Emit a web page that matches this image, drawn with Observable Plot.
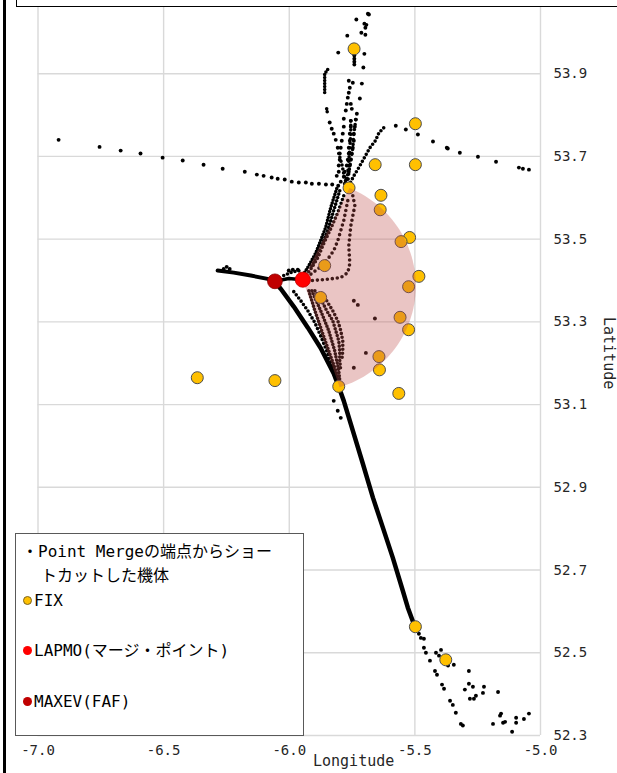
<!DOCTYPE html>
<html>
<head>
<meta charset="utf-8">
<script src="https://cdn.jsdelivr.net/npm/d3@7"></script>
<script src="https://cdn.jsdelivr.net/npm/@observablehq/plot@0.6"></script>
<style>
  body { margin: 0; background: #fff; }
  #wrap { position: relative; width: 617px; height: 773px; overflow: hidden; background: #fff;
          font-family: "DejaVu Sans Mono", "Noto Sans CJK JP", monospace; color: #000; }
  #wrap svg { position: absolute; left: 0; top: 0; }
  .frame-left { position: absolute; left: 3px; top: 0; width: 3px; height: 773px; background: #000; }
  .frame-top { position: absolute; left: 16px; top: -4px; width: 610px; height: 9px; border: 1.5px solid #000; background: #fff; }
  .axis-title { position: absolute; font-size: 15px; color: #262626; white-space: nowrap; }
  .legend { position: absolute; left: 15px; top: 533px; width: 287px; height: 201px; border: 1px solid #595959;
            background: #fff; font-size: 16px; }
  .legend .row { position: absolute; white-space: nowrap; line-height: 20px; }
  .sym { display: inline-block; width: 9px; height: 9px; border-radius: 50%; vertical-align: middle;
         margin: 0 2px 3px 0; box-sizing: border-box; }
</style>
</head>
<body>
<div id="wrap"></div>
<script>
// Axis ticks
const lonTicks = [-7.0, -6.5, -6.0, -5.5, -5.0];
const latTicks = [52.3, 52.5, 52.7, 52.9, 53.1, 53.3, 53.5, 53.7, 53.9];

// Named points [lon, lat]
const fixes = [
  [-5.742, 53.960], [-5.498, 53.779], [-5.658, 53.680], [-5.498, 53.680], [-5.762, 53.624],
  [-5.635, 53.606], [-5.638, 53.571], [-5.521, 53.504], [-5.555, 53.494], [-5.859, 53.436],
  [-5.484, 53.410], [-5.525, 53.385], [-5.875, 53.359], [-5.559, 53.311], [-5.525, 53.281],
  [-5.643, 53.216], [-5.641, 53.184], [-5.564, 53.127], [-5.803, 53.144], [-6.366, 53.165],
  [-6.057, 53.158], [-5.498, 52.563], [-5.377, 52.483]
];
const lapmo = [-5.946, 53.402];
const maxev = [-6.057, 53.398];

// Point Merge sequencing arc around the merge point
const arcCenter = [-5.926, 53.387];
const arcRadius = 0.2563;          // degrees of latitude
const arcBearings = [22.7, 162.9]; // degrees from north

// Radar plots: isolated positions [lon, lat]
const westTrack = [
  [-6.918, 53.740], [-6.755, 53.723], [-6.671, 53.714], [-6.592, 53.707], [-6.504, 53.697],
  [-6.424, 53.690], [-6.341, 53.680], [-6.265, 53.670], [-6.177, 53.663], [-6.129, 53.656],
  [-6.102, 53.653], [-6.070, 53.649], [-6.046, 53.646], [-6.018, 53.644], [-5.990, 53.639],
  [-5.962, 53.637], [-5.934, 53.637], [-5.910, 53.634], [-5.882, 53.634], [-5.854, 53.632],
  [-5.829, 53.632], [-5.805, 53.629]
];
const eastTrack = [
  [-5.046, 53.668], [-5.070, 53.670], [-5.086, 53.673], [-5.177, 53.687], [-5.249, 53.699],
  [-5.321, 53.709], [-5.369, 53.719], [-5.373, 53.721], [-5.428, 53.736], [-5.488, 53.753],
  [-5.536, 53.765], [-5.576, 53.774]
];
const northCluster = [
  [-5.687, 54.045], [-5.683, 54.043], [-5.733, 54.031], [-5.701, 54.021], [-5.693, 54.018],
  [-5.697, 54.011], [-5.713, 53.999], [-5.697, 53.994], [-5.769, 53.992], [-5.805, 53.951],
  [-5.701, 53.948], [-5.705, 53.915], [-5.741, 53.944], [-5.741, 53.936], [-5.741, 53.929],
  [-5.741, 53.922]
];
const northMiddle = [
  [-5.763, 53.883], [-5.747, 53.878], [-5.711, 53.876], [-5.759, 53.866], [-5.763, 53.854],
  [-5.719, 53.840], [-5.767, 53.842], [-5.771, 53.827], [-5.755, 53.827], [-5.751, 53.815],
  [-5.775, 53.811], [-5.731, 53.803], [-5.783, 53.791], [-5.755, 53.786], [-5.735, 53.789],
  [-5.783, 53.772], [-5.755, 53.772], [-5.739, 53.772], [-5.787, 53.755], [-5.759, 53.755],
  [-5.743, 53.755], [-5.791, 53.738], [-5.759, 53.738], [-5.743, 53.738], [-5.795, 53.721],
  [-5.763, 53.721], [-5.747, 53.721], [-5.799, 53.707], [-5.763, 53.707], [-5.751, 53.707],
  [-5.799, 53.692], [-5.767, 53.692], [-5.755, 53.692], [-5.803, 53.678], [-5.771, 53.678],
  [-5.759, 53.678], [-5.803, 53.663], [-5.779, 53.663], [-5.763, 53.663], [-5.811, 53.653],
  [-5.783, 53.651], [-5.771, 53.646], [-5.795, 53.639], [-5.779, 53.634]
];
const northLeftSparse = [
  [-5.839, 53.782], [-5.831, 53.767], [-5.823, 53.755], [-5.815, 53.740], [-5.807, 53.721]
];
const nearMerge = [
  [-6.261, 53.428], [-6.249, 53.433], [-6.237, 53.428],
  [-6.002, 53.424], [-5.986, 53.426], [-5.966, 53.426]
];
const fanScatter = [
  [-5.743, 53.351], [-5.727, 53.341], [-5.659, 53.308], [-5.695, 53.225], [-5.743, 53.189]
];
const southScatter = [
  [-5.823, 53.109], [-5.807, 53.085], [-5.795, 53.068],
  [-5.484, 52.546], [-5.464, 52.534],
  [-5.476, 52.536], [-5.464, 52.512], [-5.456, 52.500], [-5.416, 52.500], [-5.396, 52.507],
  [-5.404, 52.493], [-5.388, 52.488], [-5.345, 52.471], [-5.368, 52.469], [-5.440, 52.481],
  [-5.420, 52.456], [-5.412, 52.447], [-5.392, 52.423], [-5.384, 52.413], [-5.360, 52.384],
  [-5.349, 52.374], [-5.337, 52.355], [-5.317, 52.328], [-5.309, 52.324], [-5.285, 52.456],
  [-5.285, 52.425], [-5.269, 52.418], [-5.301, 52.411], [-5.225, 52.418], [-5.229, 52.403],
  [-5.257, 52.396], [-5.265, 52.389], [-5.281, 52.389], [-5.169, 52.405], [-5.157, 52.353],
  [-5.161, 52.348], [-5.189, 52.328], [-5.149, 52.331], [-5.141, 52.333], [-5.097, 52.343],
  [-5.097, 52.331], [-5.113, 52.309], [-5.066, 52.340], [-5.046, 52.353]
];

// Radar plots: dense strands, vertices [lon, lat]
const northLeftTop = [[-5.847, 53.910], [-5.859, 53.900], [-5.859, 53.854]];
const northLeftMid = [[-5.851, 53.815], [-5.847, 53.801]];
const northLeftLow = [[-5.803, 53.707], [-5.791, 53.682], [-5.783, 53.658], [-5.775, 53.639], [-5.767, 53.627]];
const northStrandB = [[-5.755, 53.786], [-5.755, 53.755], [-5.759, 53.721], [-5.763, 53.690], [-5.767, 53.661], [-5.771, 53.634]];
const northStrandC = [[-5.735, 53.789], [-5.743, 53.755], [-5.747, 53.721], [-5.755, 53.690], [-5.763, 53.661], [-5.767, 53.636]];
const eastCurve = [
  [-5.624, 53.769], [-5.643, 53.757], [-5.657, 53.738], [-5.679, 53.721], [-5.699, 53.699],
  [-5.723, 53.673], [-5.743, 53.653], [-5.759, 53.634], [-5.767, 53.624]
];
const edgeOuter = [[-5.811, 53.622], [-5.835, 53.576], [-5.855, 53.528], [-5.871, 53.503], [-5.894, 53.467], [-5.922, 53.436], [-5.946, 53.412]];
const edgeOuterB = [[-5.799, 53.617], [-5.823, 53.569], [-5.847, 53.520], [-5.867, 53.491], [-5.890, 53.460], [-5.914, 53.431]];
const edgeInner = [[-5.783, 53.605], [-5.807, 53.564], [-5.835, 53.525], [-5.863, 53.489], [-5.886, 53.455], [-5.914, 53.428], [-5.938, 53.409]];
const fanCurveA = [[-5.767, 53.593], [-5.783, 53.545], [-5.807, 53.496], [-5.823, 53.472], [-5.843, 53.455], [-5.875, 53.433], [-5.906, 53.419], [-5.938, 53.404]];
const fanCurveB = [[-5.747, 53.605], [-5.739, 53.581], [-5.755, 53.532], [-5.763, 53.484], [-5.759, 53.441], [-5.767, 53.419], [-5.795, 53.407], [-5.863, 53.402], [-5.934, 53.399]];
const bandA = [[-5.922, 53.375], [-5.898, 53.327], [-5.871, 53.279], [-5.843, 53.230], [-5.815, 53.182], [-5.803, 53.158]];
const bandB = [[-5.910, 53.375], [-5.875, 53.327], [-5.843, 53.279], [-5.819, 53.230], [-5.803, 53.182], [-5.799, 53.158]];
const bandC = [[-5.898, 53.375], [-5.871, 53.351], [-5.851, 53.327], [-5.827, 53.303], [-5.815, 53.279], [-5.803, 53.254], [-5.799, 53.230], [-5.799, 53.206], [-5.795, 53.182]];
const bandD = [[-5.851, 53.351], [-5.827, 53.327], [-5.807, 53.303], [-5.795, 53.279], [-5.787, 53.254], [-5.787, 53.230], [-5.791, 53.206]];
const sideLeg = [[-5.982, 53.373], [-5.954, 53.351], [-5.926, 53.327], [-5.898, 53.298], [-5.875, 53.266], [-5.851, 53.230], [-5.831, 53.194], [-5.819, 53.167]];
const mergeLinkUpper = [[-6.022, 53.412], [-5.986, 53.421], [-5.954, 53.424]];

// Radar plots merged into solid bands
const westFeed = [[-6.285, 53.424], [-6.221, 53.419], [-6.153, 53.412], [-6.086, 53.404], [-6.057, 53.398]];
const mergeLink = [[-6.057, 53.398], [-6.002, 53.405], [-5.946, 53.402]];
const finalLeg = [
  [-6.057, 53.398], [-6.034, 53.380], [-5.982, 53.337], [-5.926, 53.286], [-5.875, 53.237],
  [-5.823, 53.175], [-5.803, 53.143], [-5.783, 53.109], [-5.747, 53.037], [-5.707, 52.957],
  [-5.667, 52.875], [-5.627, 52.802], [-5.588, 52.730], [-5.548, 52.650], [-5.528, 52.609],
  [-5.500, 52.563]
];

// Sector between the merge point and the arc
const toRad = Math.PI / 180;
const arcPolygon = [lapmo];
for (let b = arcBearings[0]; b <= arcBearings[1] + 1e-9; b += (arcBearings[1] - arcBearings[0]) / 60) {
  arcPolygon.push([
    arcCenter[0] + arcRadius * Math.sin(b * toRad) / Math.cos(arcCenter[1] * toRad),
    arcCenter[1] + arcRadius * Math.cos(b * toRad)
  ]);
}
arcPolygon.push(lapmo);

const X = d => d[0], Y = d => d[1];
const dots = arr => Plot.dot(arr, {x: X, y: Y, r: 1.95, fill: "#000", stroke: "none"});
const dotted = (arr, gap) => Plot.line(arr, {x: X, y: Y, stroke: "#000", strokeWidth: 3.6,
  strokeLinecap: "round", strokeDasharray: `0 ${gap}`});
const solid = (arr, w) => Plot.line(arr, {x: X, y: Y, stroke: "#000", strokeWidth: w,
  strokeLinecap: "round", strokeLinejoin: "round"});

const chart = Plot.plot({
  width: 617,
  height: 773,
  marginLeft: 37.5,
  marginRight: 77,
  marginTop: 7,
  marginBottom: 38,
  x: {domain: [-7, -5]},
  y: {domain: [52.3, 54.06]},
  style: {fontFamily: "'DejaVu Sans Mono', 'Noto Sans CJK JP', monospace", fontSize: "14px",
          color: "#262626", background: "transparent", overflow: "visible"},
  marks: [
    Plot.gridX(lonTicks, {stroke: "#d9d9d9", strokeOpacity: 1, strokeWidth: 1.4}),
    Plot.gridY(latTicks, {stroke: "#d9d9d9", strokeOpacity: 1, strokeWidth: 1.4}),
    Plot.axisX(lonTicks, {tickSize: 0, tickPadding: 10, tickFormat: d => d.toFixed(1), label: null, fontSize: 14}),
    Plot.axisY(latTicks, {anchor: "right", tickSize: 0, tickPadding: 13, tickFormat: d => d.toFixed(1), label: null, fontSize: 14}),

    solid(westFeed, 4),
    solid(mergeLink, 3.6),
    solid(finalLeg, 4.5),

    dotted(northLeftTop, 3), dotted(northLeftMid, 3), dotted(northLeftLow, 4),
    dotted(northStrandB, 4.5), dotted(northStrandC, 5),
    dotted(eastCurve, 4),
    dotted(edgeOuter, 3), dotted(edgeOuterB, 3.5), dotted(edgeInner, 4),
    dotted(fanCurveA, 5), dotted(fanCurveB, 5),
    dotted(bandA, 3.2), dotted(bandB, 3.2), dotted(bandC, 3.6), dotted(bandD, 4),
    dotted(sideLeg, 4), dotted(mergeLinkUpper, 4),

    dots(westTrack), dots(eastTrack), dots(northCluster), dots(northMiddle),
    dots(northLeftSparse), dots(nearMerge), dots(fanScatter), dots(southScatter),

    Plot.dot(fixes, {x: X, y: Y, r: 6, fill: "#FFC000", stroke: "#4d4d4d", strokeWidth: 1}),

    Plot.line(arcPolygon, {x: X, y: Y, fill: "#C0504D", fillOpacity: 0.33, stroke: "none"}),

    Plot.dot([maxev], {x: X, y: Y, r: 7.4, fill: "#C00000", stroke: "#8a0000", strokeWidth: 0.8}),
    Plot.dot([lapmo], {x: X, y: Y, r: 7.6, fill: "#FF0000", stroke: "#c00000", strokeWidth: 0.8})
  ]
});

const wrap = document.getElementById("wrap");
wrap.appendChild(chart);
wrap.insertAdjacentHTML("beforeend", `
  <div class="frame-left"></div>
  <div class="frame-top"></div>
  <div class="axis-title" style="left:313px; top:752px;">Longitude</div>
  <div class="axis-title" style="left:572px; top:345px; transform: rotate(90deg); transform-origin: 37px 9px;">Latitude</div>
  <div class="legend">
    <div class="row" style="left:6px; top:8px;">・Point Mergeの端点からショー</div>
    <div class="row" style="left:25px; top:32px;">トカットした機体</div>
    <div class="row" style="left:7px; top:57px;"><span class="sym" style="background:#FFC000; border:1px solid #7a6320;"></span>FIX</div>
    <div class="row" style="left:7px; top:107px;"><span class="sym" style="background:#FF0000;"></span>LAPMO(マージ・ポイント)</div>
    <div class="row" style="left:7px; top:158px;"><span class="sym" style="background:#C00000;"></span>MAXEV(FAF)</div>
  </div>
`);
</script>
</body>
</html>
